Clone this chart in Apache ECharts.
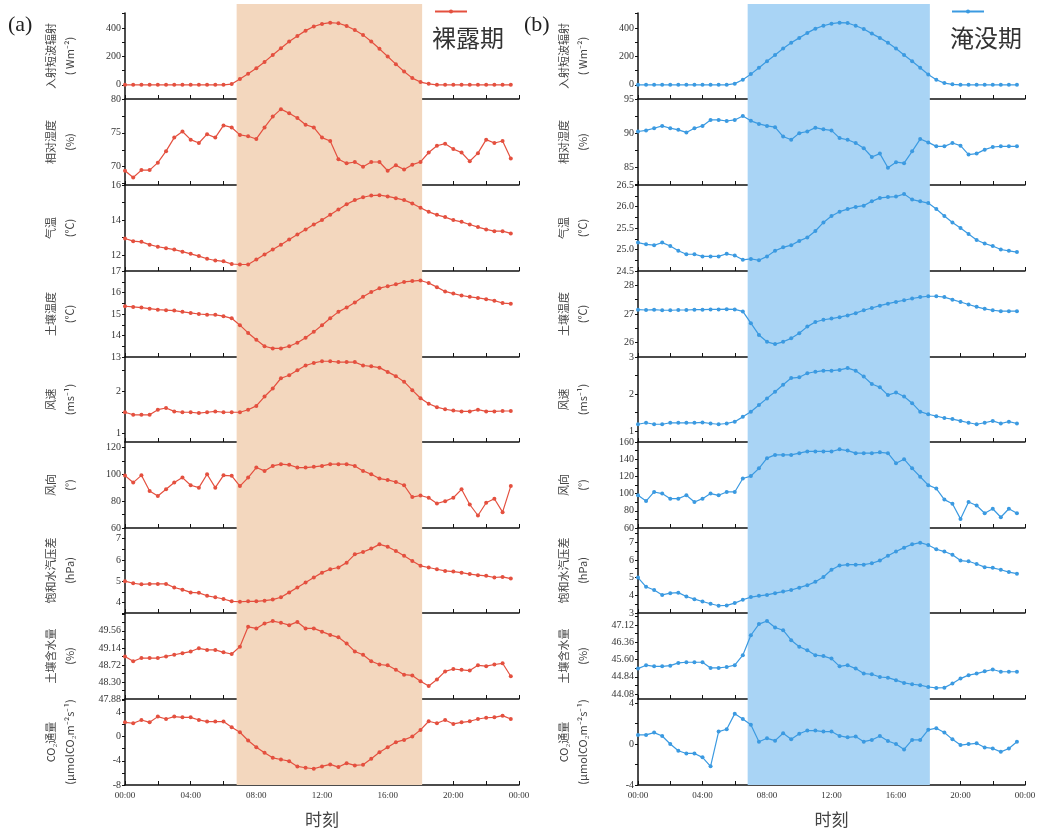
<!DOCTYPE html>
<html>
<head>
<meta charset="utf-8">
<title>裸露期 / 淹没期</title>
<script src="https://cdn.jsdelivr.net/npm/echarts@6/dist/echarts.min.js"></script>
<style>
  html, body { margin: 0; padding: 0; background: #fff; }
  #main { width: 1061px; height: 832px; }
</style>
</head>
<body>
<div id="main"></div>
<script>
'use strict';

// 时刻 (h)，半小时一个点
var hours = [0, 0.5, 1, 1.5, 2, 2.5, 3, 3.5, 4, 4.5, 5, 5.5, 6, 6.5, 7, 7.5, 8, 8.5, 9, 9.5, 10, 10.5, 11, 11.5,
  12, 12.5, 13, 13.5, 14, 14.5, 15, 15.5, 16, 16.5, 17, 17.5, 18, 18.5, 19, 19.5, 20, 20.5, 21, 21.5, 22, 22.5, 23, 23.5];
var timeLabels = [0, 4, 8, 12, 16, 20, 24];

// 昼间阴影
var dayStart = 6.8;
var dayEnd = 18.1;

// (a) 裸露期
var radA = [0, 0, 0, 0, 0, 0, 0, 0, 0, 0, 0, 0, 0, 5, 40, 77, 117, 161, 210, 257, 304, 344, 381, 410,
  428, 437, 433, 414, 386, 351, 304, 253, 199, 145, 93, 47, 19, 7, 0, 0, 0, 0, 0, 0, 0, 0, 0, 0];
var rhA = [69.4, 68.4, 69.5, 69.5, 70.6, 72.3, 74.3, 75.2, 74.0, 73.5, 74.8, 74.3, 76.1, 75.8, 74.7, 74.5, 74.1, 75.8, 77.4, 78.5, 77.9, 77.2, 76.2, 75.8,
  74.3, 73.8, 71.1, 70.5, 70.7, 70.0, 70.7, 70.7, 69.4, 70.2, 69.6, 70.3, 70.7, 72.1, 73.1, 73.4, 72.6, 72.1, 70.8, 72.0, 74.0, 73.5, 73.8, 71.2];
var tempA = [12.95, 12.8, 12.76, 12.6, 12.48, 12.4, 12.32, 12.2, 12.08, 11.95, 11.8, 11.7, 11.65, 11.5, 11.47, 11.47, 11.75, 12.04, 12.32, 12.6, 12.9, 13.18, 13.47, 13.75,
  14.0, 14.3, 14.6, 14.9, 15.14, 15.3, 15.4, 15.42, 15.35, 15.25, 15.14, 14.95, 14.7, 14.47, 14.3, 14.17, 14.0, 13.9, 13.75, 13.6, 13.47, 13.37, 13.37, 13.24];
var soilTA = [15.36, 15.33, 15.3, 15.25, 15.2, 15.18, 15.16, 15.1, 15.05, 15.0, 14.97, 14.96, 14.9, 14.8, 14.48, 14.12, 13.8, 13.5, 13.4, 13.4, 13.5, 13.66, 13.9, 14.17,
  14.48, 14.8, 15.1, 15.3, 15.53, 15.8, 16.02, 16.2, 16.29, 16.38, 16.49, 16.53, 16.56, 16.44, 16.25, 16.05, 15.95, 15.86, 15.8, 15.75, 15.69, 15.62, 15.51, 15.48];
var wsA = [1.5, 1.44, 1.44, 1.44, 1.56, 1.6, 1.52, 1.5, 1.5, 1.48, 1.5, 1.52, 1.5, 1.5, 1.5, 1.56, 1.65, 1.87, 2.06, 2.3, 2.37, 2.49, 2.6, 2.66,
  2.7, 2.7, 2.68, 2.68, 2.68, 2.6, 2.58, 2.55, 2.45, 2.35, 2.22, 2.02, 1.83, 1.7, 1.62, 1.57, 1.54, 1.52, 1.52, 1.56, 1.52, 1.52, 1.53, 1.53];
var wdA = [99, 93.8, 99.2, 87.5, 83.8, 88.8, 93.8, 97.5, 91.8, 90, 100, 90, 99.2, 98.8, 91.2, 97.5, 105, 102.5, 106.2, 107.5, 107, 105, 105, 105.5,
  106.2, 107.5, 107.5, 107.5, 106.2, 102.5, 100, 96.8, 95.8, 94.2, 91.8, 83, 84.2, 82.5, 78.2, 80, 82.5, 88.8, 77.5, 69.3, 78.8, 81.8, 71.8, 91.2];
var vpdA = [5.0, 4.9, 4.85, 4.87, 4.87, 4.87, 4.7, 4.6, 4.47, 4.45, 4.31, 4.24, 4.16, 4.05, 4.03, 4.05, 4.05, 4.08, 4.13, 4.24, 4.47, 4.7, 4.94, 5.17,
  5.4, 5.56, 5.64, 5.87, 6.26, 6.37, 6.53, 6.73, 6.62, 6.42, 6.19, 5.95, 5.72, 5.64, 5.56, 5.48, 5.45, 5.4, 5.33, 5.28, 5.25, 5.17, 5.2, 5.12];
var swA = [48.93, 48.81, 48.89, 48.89, 48.89, 48.93, 48.97, 49.01, 49.05, 49.13, 49.09, 49.09, 49.03, 48.99, 49.17, 49.66, 49.62, 49.74, 49.8, 49.76, 49.70, 49.78, 49.62, 49.62,
  49.54, 49.46, 49.4, 49.25, 49.05, 48.97, 48.81, 48.73, 48.71, 48.6, 48.48, 48.46, 48.32, 48.2, 48.36, 48.56, 48.62, 48.6, 48.58, 48.71, 48.69, 48.73, 48.76, 48.44];
var co2A = [2.35, 2.2, 2.74, 2.35, 3.29, 2.9, 3.29, 3.17, 3.17, 2.74, 2.47, 2.47, 2.47, 1.53, 0.71, -0.66, -1.76, -2.69, -3.51, -3.79, -4.06, -4.93, -5.15, -5.32,
  -4.93, -4.6, -5.04, -4.39, -4.77, -4.66, -3.67, -2.58, -1.76, -0.93, -0.55, 0, 1.1, 2.52, 2.2, 2.74, 2.08, 2.35, 2.52, 2.9, 3.1, 3.17, 3.45, 2.9];

// (b) 淹没期
var radB = [0, 0, 0, 0, 0, 0, 0, 0, 0, 0, 0, 0, 8, 35, 75, 120, 165, 210, 255, 295, 330, 365, 395, 415,
  430, 437, 435, 415, 392, 360, 330, 295, 255, 210, 165, 120, 72, 35, 12, 3, 0, 0, 0, 0, 0, 0, 0, 0];
var rhB = [90.24, 90.4, 90.72, 91.06, 90.72, 90.48, 90.1, 90.72, 91.06, 91.93, 91.93, 91.78, 91.93, 92.5, 91.8, 91.35, 91.06, 90.87, 89.5, 89.03, 90.0, 90.24, 90.8, 90.55,
  90.4, 89.27, 89.03, 88.55, 87.8, 86.5, 87.0, 84.93, 85.75, 85.6, 87.33, 89.13, 88.64, 88.06, 88.06, 88.55, 88.16, 86.86, 87.0, 87.58, 87.97, 88.06, 88.06, 88.06];
var tempB = [25.16, 25.12, 25.1, 25.16, 25.08, 24.97, 24.89, 24.89, 24.84, 24.84, 24.84, 24.9, 24.86, 24.76, 24.78, 24.75, 24.84, 24.97, 25.05, 25.1, 25.2, 25.28, 25.43, 25.63,
  25.78, 25.88, 25.94, 25.99, 26.02, 26.12, 26.2, 26.22, 26.23, 26.29, 26.16, 26.12, 26.08, 25.94, 25.78, 25.63, 25.5, 25.36, 25.22, 25.14, 25.08, 25.0, 24.97, 24.94];
var soilTB = [27.15, 27.14, 27.15, 27.13, 27.13, 27.14, 27.14, 27.15, 27.15, 27.16, 27.16, 27.17, 27.16, 27.09, 26.68, 26.27, 26.03, 25.95, 26.03, 26.15, 26.33, 26.56, 26.72, 26.8,
  26.84, 26.89, 26.95, 27.03, 27.13, 27.21, 27.29, 27.36, 27.42, 27.48, 27.54, 27.59, 27.62, 27.62, 27.59, 27.5, 27.42, 27.33, 27.25, 27.18, 27.13, 27.1, 27.1, 27.1];
var wsB = [1.18, 1.22, 1.18, 1.18, 1.22, 1.22, 1.22, 1.22, 1.23, 1.2, 1.18, 1.2, 1.25, 1.38, 1.52, 1.7, 1.88, 2.06, 2.25, 2.43, 2.45, 2.56, 2.6, 2.63,
  2.63, 2.65, 2.7, 2.63, 2.47, 2.27, 2.18, 1.97, 2.04, 1.93, 1.75, 1.52, 1.45, 1.4, 1.35, 1.32, 1.27, 1.22, 1.18, 1.22, 1.27, 1.2, 1.25, 1.2];
var wdB = [98, 91.3, 101.9, 100, 94.1, 94.1, 98, 90.2, 94.1, 100, 98, 101.9, 101.9, 117.6, 120.4, 129.4, 141.2, 145, 145, 145, 147, 149, 149, 149,
  149, 151.5, 150, 147, 147, 147, 148, 147, 135.3, 140, 129.4, 119.6, 109.8, 105.9, 93, 88.2, 70.6, 90.2, 86.2, 77.2, 82.4, 72.5, 82.4, 77.2];
var vpdB = [5.0, 4.48, 4.3, 4.02, 4.12, 4.15, 3.93, 3.78, 3.65, 3.52, 3.41, 3.43, 3.56, 3.75, 3.9, 3.97, 4.02, 4.12, 4.21, 4.3, 4.43, 4.57, 4.76, 5.03,
  5.44, 5.68, 5.73, 5.73, 5.73, 5.81, 5.96, 6.23, 6.47, 6.69, 6.88, 6.97, 6.84, 6.6, 6.47, 6.29, 5.96, 5.92, 5.77, 5.59, 5.55, 5.44, 5.31, 5.22];
var swB = [45.2, 45.35, 45.3, 45.3, 45.33, 45.45, 45.48, 45.48, 45.48, 45.23, 45.23, 45.27, 45.35, 45.79, 46.67, 47.16, 47.3, 47.01, 46.89, 46.45, 46.16, 46.01, 45.79, 45.75,
  45.64, 45.3, 45.35, 45.2, 44.98, 44.95, 44.83, 44.8, 44.69, 44.57, 44.51, 44.47, 44.39, 44.35, 44.36, 44.54, 44.76, 44.91, 44.98, 45.08, 45.16, 45.06, 45.06, 45.06];
var co2B = [0.89, 0.89, 1.12, 0.79, 0, -0.66, -0.92, -0.92, -1.3, -2.18, 1.22, 1.45, 2.97, 2.44, 1.88, 0.23, 0.56, 0.33, 1.06, 0.46, 1.0, 1.32, 1.32, 1.22,
  1.22, 0.79, 0.66, 0.73, 0.23, 0.4, 0.79, 0.3, 0, -0.53, 0.4, 0.4, 1.39, 1.55, 1.12, 0.46, -0.1, 0, 0.07, -0.33, -0.43, -0.76, -0.43, 0.23];

// 纵轴刻度标签
var radTicks = [0, 200, 400];
var rhTicksA = [70, 75, 80];
var tempTicksA = [12, 14, 16];
var soilTTicksA = [13, 14, 15, 16, 17];
var wsTicksA = [1, 2];
var wdTicksA = [60, 80, 100, 120];
var vpdTicksA = [4, 5, 6, 7];
var swTicksA = [47.88, 48.30, 48.72, 49.14, 49.56];
var co2TicksA = [-8, -4, 0, 4];

var rhTicksB = [85, 90, 95];
var tempTicksB = [24.5, 25.0, 25.5, 26.0, 26.5];
var soilTTicksB = [26, 27, 28];
var wsTicksB = [1, 2, 3];
var wdTicksB = [60, 80, 100, 120, 140, 160];
var vpdTicksB = [3, 4, 5, 6, 7];
var swTicksB = [44.08, 44.84, 45.60, 46.36, 47.12];
var co2TicksB = [-4, 0, 4];

var yNames = [
  '入射短波辐射\n( Wm⁻²)',
  '相对湿度\n(%)',
  '气温\n(℃)',
  '土壤温度\n(℃)',
  '风速\n(ms⁻¹)',
  '风向\n(°)',
  '饱和水汽压差\n(hPa)',
  '土壤含水量\n(%)',
  'CO₂通量\n(μmolCO₂m⁻²s⁻¹)'
];

// 版面
var rowTops = [13, 99, 185, 271, 357, 442, 528, 613, 699];
var rowBottom = 785;
var numFont = 'Liberation Serif';
var cjkFont = 'Noto Sans CJK SC';

var panels = [
  {
    name: '裸露期', left: 125, width: 394, color: '#E4503F', shade: '#F3D7BE',
    rows: [
      { data: radA, ticks: radTicks, min: -100, max: 505, dec: 0 },
      { data: rhA, ticks: rhTicksA, min: 67.3, max: 80, dec: 0 },
      { data: tempA, ticks: tempTicksA, min: 11.1, max: 16, dec: 0 },
      { data: soilTA, ticks: soilTTicksA, min: 13, max: 17, dec: 0 },
      { data: wsA, ticks: wsTicksA, min: 0.8, max: 2.8, dec: 0 },
      { data: wdA, ticks: wdTicksA, min: 60, max: 124, dec: 0 },
      { data: vpdA, ticks: vpdTicksA, min: 3.5, max: 7.5, dec: 0 },
      { data: swA, ticks: swTicksA, min: 47.88, max: 50.0, dec: 2 },
      { data: co2A, ticks: co2TicksA, min: -8, max: 6.2, dec: 0 }
    ]
  },
  {
    name: '淹没期', left: 638, width: 387, color: '#3B9AE1', shade: '#A9D4F5',
    rows: [
      { data: radB, ticks: radTicks, min: -100, max: 505, dec: 0 },
      { data: rhB, ticks: rhTicksB, min: 82.4, max: 95, dec: 0 },
      { data: tempB, ticks: tempTicksB, min: 24.5, max: 26.5, dec: 1 },
      { data: soilTB, ticks: soilTTicksB, min: 25.5, max: 28.5, dec: 0 },
      { data: wsB, ticks: wsTicksB, min: 0.7, max: 3, dec: 0 },
      { data: wdB, ticks: wdTicksB, min: 60, max: 160, dec: 0 },
      { data: vpdB, ticks: vpdTicksB, min: 3, max: 7.8, dec: 0 },
      { data: swB, ticks: swTicksB, min: 43.86, max: 47.65, dec: 2 },
      { data: co2B, ticks: co2TicksB, min: -4, max: 4.4, dec: 0 }
    ]
  }
];

// 主刻度 + 中间的小刻度
function tickPositions(labels, min, max) {
  var out = [];
  var step = labels.length > 1 ? labels[1] - labels[0] : 1;
  for (var v = labels[0] - step / 2; v <= max + 1e-9; v += step / 2) {
    if (v >= min - 1e-9) out.push(+v.toFixed(4));
  }
  return out;
}

function timeFormatter(v) {
  if (timeLabels.indexOf(v) < 0) return '';
  var hh = v % 24;
  return (hh < 10 ? '0' : '') + hh + ':00';
}

var grids = [], xAxes = [], yAxes = [], series = [];

panels.forEach(function (p, pi) {
  p.rows.forEach(function (row, r) {
    var gi = pi * 9 + r;
    var top = rowTops[r];
    var bottom = r < 8 ? rowTops[r + 1] : rowBottom;
    var last = r === 8;

    grids.push({ left: p.left, top: top, width: p.width, height: bottom - top, outerBoundsMode: 'none' });

    xAxes.push({
      type: 'value', gridIndex: gi, min: 0, max: 24, interval: 2,
      axisLine: { show: true, onZero: false, lineStyle: { color: '#111', width: 1.5 } },
      axisTick: { show: true, inside: true, length: 4, lineStyle: { color: '#111', width: 1 } },
      splitLine: { show: false },
      axisLabel: { show: last, formatter: timeFormatter, fontSize: 9, color: '#333', fontFamily: numFont, margin: 6 },
      name: last ? '时刻' : '',
      nameLocation: 'middle', nameGap: 26,
      nameTextStyle: { fontSize: 17, color: '#444', fontFamily: cjkFont }
    });

    yAxes.push({
      type: 'value', gridIndex: gi, min: row.min, max: row.max,
      axisLine: { show: true, onZero: false, lineStyle: { color: '#111', width: 1.5 } },
      axisTick: { show: true, length: 3, customValues: tickPositions(row.ticks, row.min, row.max), lineStyle: { color: '#111' } },
      splitLine: { show: false },
      axisLabel: {
        customValues: row.ticks, showMinLabel: true, showMaxLabel: true,
        fontSize: 10, color: '#333', fontFamily: numFont, margin: 4,
        formatter: (function (d) { return function (v) { return (+v).toFixed(d); }; })(row.dec)
      },
      name: yNames[r], nameLocation: 'middle', nameRotate: 90, nameGap: 46, nameMoveOverlap: false,
      nameTextStyle: { fontSize: 11, lineHeight: 19, color: '#444', fontFamily: cjkFont, align: 'center' }
    });

    series.push({
      type: 'line', name: p.name, xAxisIndex: gi, yAxisIndex: gi,
      data: hours.map(function (h, i) { return [h, row.data[i]]; }),
      symbol: 'circle', symbolSize: 4,
      lineStyle: { color: p.color, width: 1.2 },
      itemStyle: { color: p.color },
      z: 3,
      markArea: {
        silent: true,
        itemStyle: { color: p.shade },
        data: [[{ xAxis: dayStart }, { xAxis: dayEnd }]]
      }
    });
  });
});

var option = {
  animation: false,
  backgroundColor: '#fff',
  grid: grids,
  xAxis: xAxes,
  yAxis: yAxes,
  series: series,
  legend: [
    { data: ['裸露期'], left: 434, top: 9, itemWidth: 32, itemHeight: 5, padding: 0, formatter: function () { return ''; } },
    { data: ['淹没期'], left: 951, top: 9, itemWidth: 32, itemHeight: 5, padding: 0, formatter: function () { return ''; } }
  ],
  title: [
    { text: '裸露期', left: 432, top: 26, padding: 0, textStyle: { fontSize: 24, fontWeight: 'normal', color: '#333', fontFamily: cjkFont } },
    { text: '淹没期', left: 950, top: 26, padding: 0, textStyle: { fontSize: 24, fontWeight: 'normal', color: '#333', fontFamily: cjkFont } }
  ],
  graphic: [
    { type: 'text', left: 8, top: 14, style: { text: '(a)', fontSize: 22, fontFamily: numFont, fill: '#222' } },
    { type: 'text', left: 524, top: 14, style: { text: '(b)', fontSize: 22, fontFamily: numFont, fill: '#222' } }
  ]
};

var myChart = echarts.init(document.getElementById('main'));
myChart.setOption(option);

// 阴影再向上延伸一点 (顶端子图上方)
var strips = panels.map(function (p, pi) {
  var x0 = myChart.convertToPixel({ xAxisIndex: pi * 9 }, dayStart);
  var x1 = myChart.convertToPixel({ xAxisIndex: pi * 9 }, dayEnd);
  return { type: 'rect', z: -1, silent: true, shape: { x: x0, y: 4, width: x1 - x0, height: rowTops[0] - 4 }, style: { fill: p.shade } };
});
myChart.setOption({ graphic: option.graphic.concat(strips) });
</script>
</body>
